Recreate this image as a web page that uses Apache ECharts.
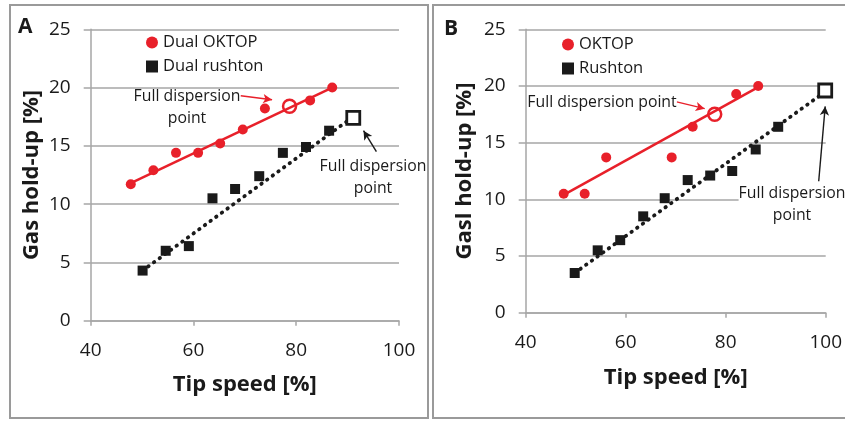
<!DOCTYPE html>
<html><head><meta charset="utf-8">
<script src="https://cdn.jsdelivr.net/npm/echarts@6/dist/echarts.min.js"></script>
<style>html,body{margin:0;padding:0;background:#fff}#c{width:845px;height:423px}</style>
</head><body><div id="c"></div>
<script>
// ---- Panel A data ----
var aOktopX = [47.8, 52.2, 56.6, 60.9, 65.2, 69.6, 73.9, 82.7, 87.0];
var aOktopY = [11.7, 12.9, 14.4, 14.4, 15.2, 16.4, 18.2, 18.9, 20.0];
var aOktopFull = [78.7, 18.4];
var aRushX = [50.1, 54.6, 59.1, 63.7, 68.1, 72.8, 77.4, 81.9, 86.4];
var aRushY = [4.3, 6.0, 6.4, 10.5, 11.3, 12.4, 14.4, 14.9, 16.3];
var aRushFull = [91.1, 17.4];
var aOktopTrend = [[47.8, 11.8], [87.0, 20.0]];
var aRushTrend = [[50.1, 4.3], [91.1, 17.5]];
// ---- Panel B data ----
var bOktopX = [47.6, 51.8, 56.1, 69.2, 73.4, 82.1, 86.5];
var bOktopY = [10.5, 10.5, 13.7, 13.7, 16.4, 19.3, 20.0];
var bOktopFull = [77.8, 17.5];
var bRushX = [49.8, 54.4, 58.9, 63.5, 67.8, 72.4, 76.9, 81.3, 86.0, 90.5];
var bRushY = [3.5, 5.5, 6.4, 8.5, 10.1, 11.7, 12.1, 12.5, 14.4, 16.4];
var bRushFull = [99.9, 19.6];
var bOktopTrend = [[47.6, 10.4], [86.5, 19.9]];
var bRushTrend = [[49.8, 3.5], [99.9, 19.5]];
// ---- axes ----
var xTicks = [40, 60, 80, 100];
var yTicks = [0, 5, 10, 15, 20, 25];
var legendA = ['Dual OKTOP', 'Dual rushton'];
var legendB = ['OKTOP', 'Rushton'];

function zip(xs, ys) { return xs.map(function (x, i) { return [x, ys[i]]; }); }

var FONT = 'Open Sans';
var RED = '#e8202a';
var BLK = '#1a1a1a';
var GRID = '#a6a6a6';
var TXT = '#1a1a1a';

function xAxis(idx, gap) {
  return {
    type: 'value', gridIndex: idx, min: xTicks[0], max: xTicks[xTicks.length - 1], interval: 20,
    name: 'Tip speed [%]', nameLocation: 'middle', nameGap: gap,
    nameTextStyle: { fontFamily: FONT, fontWeight: 'bold', fontSize: 22, color: TXT },
    axisLine: { lineStyle: { color: GRID, width: 1.5 } },
    axisTick: { show: true, length: 5, lineStyle: { color: GRID, width: 1.5 } },
    axisLabel: { fontFamily: FONT, fontSize: 19, color: TXT, margin: 20 },
    splitLine: { show: false }
  };
}
function yAxis(idx, name, gap) {
  return {
    type: 'value', gridIndex: idx, min: yTicks[0], max: yTicks[yTicks.length - 1], interval: 5,
    name: name, nameLocation: 'middle', nameGap: gap,
    nameTextStyle: { fontFamily: FONT, fontWeight: 'bold', fontSize: 22, color: TXT },
    axisLine: { show: true, lineStyle: { color: GRID, width: 1.5 } },
    axisTick: { show: true, length: 7, lineStyle: { color: GRID, width: 1.5 } },
    axisLabel: { fontFamily: FONT, fontSize: 19, color: TXT, margin: 20 },
    splitLine: { show: true, lineStyle: { color: GRID, width: 1.5 } }
  };
}
function arrow(coordFrom, coordTo, color) {
  return {
    silent: true, symbol: ['none', 'arrow'], symbolSize: [7, 9],
    lineStyle: { color: color, width: 1.4, type: 'solid' }, label: { show: false },
    data: [[{ coord: coordFrom }, { coord: coordTo }]]
  };
}
function legend(names, left, top) {
  return {
    data: [{ name: names[0], icon: 'circle' }, { name: names[1], icon: 'rect' }],
    orient: 'vertical', left: left, top: top, padding: 0, itemWidth: 12, itemHeight: 12, itemGap: 7,
    textStyle: { fontFamily: FONT, fontSize: 16.5, color: TXT }
  };
}

var option = {
  animation: false,
  backgroundColor: '#fff',
  grid: [
    { left: 90.7, top: 29.3, width: 308.3, height: 291.4 },
    { left: 525.7, top: 29.3, width: 303.3, height: 283.4 }
  ],
  xAxis: [xAxis(0, 53), xAxis(1, 54)],
  yAxis: [yAxis(0, 'Gas hold-up [%]', 48), yAxis(1, 'Gasl hold-up [%]', 50)],
  legend: [legend(legendA, 146, 34), legend(legendB, 562, 36)],
  series: [
    // Panel A
    { type: 'line', xAxisIndex: 0, yAxisIndex: 0, data: aOktopTrend, symbol: 'none',
      lineStyle: { color: RED, width: 2.5 }, silent: true, z: 2,
      markLine: arrow([69.2, 19.3], [75.3, 18.95], RED) },
    { type: 'line', xAxisIndex: 0, yAxisIndex: 0, data: aRushTrend, symbol: 'none',
      lineStyle: { color: BLK, width: 3.8, type: [0.5, 6.5], cap: 'round' }, silent: true, z: 2,
      markLine: arrow([95.6, 14.5], [93.1, 16.3], BLK) },
    { name: legendA[0], type: 'scatter', xAxisIndex: 0, yAxisIndex: 0, data: zip(aOktopX, aOktopY),
      symbol: 'circle', symbolSize: 10, itemStyle: { color: RED, opacity: 1 }, z: 3 },
    { name: legendA[1], type: 'scatter', xAxisIndex: 0, yAxisIndex: 0, data: zip(aRushX, aRushY),
      symbol: 'rect', symbolSize: 10, itemStyle: { color: BLK, opacity: 1 }, z: 3 },
    { type: 'scatter', xAxisIndex: 0, yAxisIndex: 0, data: [aOktopFull], symbol: 'circle', symbolSize: 13,
      itemStyle: { color: 'rgba(255,255,255,0)', borderColor: RED, borderWidth: 2.5, opacity: 1 }, z: 4 },
    { type: 'scatter', xAxisIndex: 0, yAxisIndex: 0, data: [aRushFull], symbol: 'rect', symbolSize: 13,
      itemStyle: { color: '#fff', borderColor: BLK, borderWidth: 2.8, opacity: 1 }, z: 4 },
    // Panel B
    { type: 'line', xAxisIndex: 1, yAxisIndex: 1, data: bOktopTrend, symbol: 'none',
      lineStyle: { color: RED, width: 2.5 }, silent: true, z: 2,
      markLine: arrow([70.2, 18.6], [75.8, 18.0], RED) },
    { type: 'line', xAxisIndex: 1, yAxisIndex: 1, data: bRushTrend, symbol: 'none',
      lineStyle: { color: BLK, width: 3.8, type: [0.5, 6.5], cap: 'round' }, silent: true, z: 2,
      markLine: arrow([98.6, 11.6], [99.9, 18.2], BLK) },
    { name: legendB[0], type: 'scatter', xAxisIndex: 1, yAxisIndex: 1, data: zip(bOktopX, bOktopY),
      symbol: 'circle', symbolSize: 10, itemStyle: { color: RED, opacity: 1 }, z: 3 },
    { name: legendB[1], type: 'scatter', xAxisIndex: 1, yAxisIndex: 1, data: zip(bRushX, bRushY),
      symbol: 'rect', symbolSize: 10, itemStyle: { color: BLK, opacity: 1 }, z: 3 },
    { type: 'scatter', xAxisIndex: 1, yAxisIndex: 1, data: [bOktopFull], symbol: 'circle', symbolSize: 13,
      itemStyle: { color: 'rgba(255,255,255,0)', borderColor: RED, borderWidth: 2.5, opacity: 1 }, z: 4 },
    { type: 'scatter', xAxisIndex: 1, yAxisIndex: 1, data: [bRushFull], symbol: 'rect', symbolSize: 13,
      itemStyle: { color: '#fff', borderColor: BLK, borderWidth: 2.8, opacity: 1 }, z: 4 }
  ],
  graphic: [
    { type: 'rect', shape: { x: 10, y: 5, width: 418, height: 413 }, style: { fill: 'none', stroke: '#9a9a9a', lineWidth: 2 }, z: -1, silent: true },
    { type: 'rect', shape: { x: 433, y: 5, width: 420, height: 413 }, style: { fill: 'none', stroke: '#9a9a9a', lineWidth: 2 }, z: -1, silent: true },
    { type: 'text', left: 18, top: 17, style: { text: 'A', fontFamily: FONT, fontWeight: 'bold', fontSize: 21, fill: TXT } },
    { type: 'text', left: 444, top: 19, style: { text: 'B', fontFamily: FONT, fontWeight: 'bold', fontSize: 21, fill: TXT } },
    { type: 'text', x: 187, y: 96, style: { text: 'Full dispersion\npoint', fontFamily: FONT, fontSize: 15.8, lineHeight: 22, fill: TXT, align: 'center', verticalAlign: 'middle', y: 11 }, z: 10 },
    { type: 'text', x: 373, y: 166, style: { text: 'Full dispersion\npoint', fontFamily: FONT, fontSize: 15.8, lineHeight: 22, fill: TXT, align: 'center', verticalAlign: 'middle', y: 11 }, z: 10 },
    { type: 'text', x: 602, y: 102, style: { text: 'Full dispersion point', fontFamily: FONT, fontSize: 15.8, fill: TXT, align: 'center', verticalAlign: 'middle', backgroundColor: '#fff' }, z: 10 },
    { type: 'text', x: 792, y: 193, style: { text: 'Full dispersion\npoint', fontFamily: FONT, fontSize: 15.8, lineHeight: 22, fill: TXT, align: 'center', verticalAlign: 'middle', y: 11, backgroundColor: '#fff' }, z: 10 }
  ]
};
var chart = echarts.init(document.getElementById('c'), null, { renderer: 'canvas' });
chart.setOption(option);
</script></body></html>
